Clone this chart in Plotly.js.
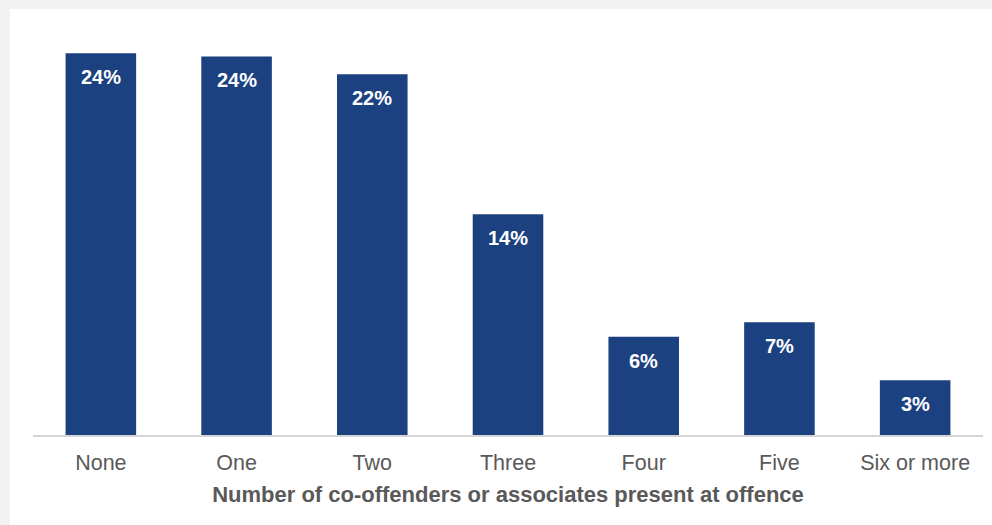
<!DOCTYPE html>
<html>
<head>
<meta charset="utf-8">
<script src="https://cdn.plot.ly/plotly-3.0.1.min.js"></script>
<style>
html,body{margin:0;padding:0;background:#f2f2f2;}
#chart{width:992px;height:525px;}
</style>
</head>
<body>
<div id="chart"></div>
<script>
const categories = ["None", "One", "Two", "Three", "Four", "Five", "Six or more"];
const shares = [23.7, 23.5, 22.4, 13.7, 6.1, 7.0, 3.4];
const barLabels = ["24%", "24%", "22%", "14%", "6%", "7%", "3%"];
const xAxisTitle = "Number of co-offenders or associates present at offence";

const W = 992, H = 525;
const mL = 33, mR = 9, mT = 30, mB = 90;
const plotW = W - mL - mR, plotH = H - mT - mB;

const trace = {
  type: "bar",
  x: categories,
  y: shares,
  marker: {color: "#1b4181", line: {width: 0}},
  hoverinfo: "skip"
};

const annotations = categories.map((c, i) => ({
  x: c, y: shares[i], xref: "x", yref: "y",
  text: barLabels[i], showarrow: false,
  yanchor: "top", yshift: -11,
  font: {family: "Liberation Sans, Arial, sans-serif", size: 20, color: "#ffffff", weight: "bold"}
}));

const layout = {
  width: W, height: H,
  margin: {l: mL, r: mR, t: mT, b: mB},
  paper_bgcolor: "#f2f2f2",
  plot_bgcolor: "#ffffff",
  showlegend: false,
  bargap: 0.48,
  font: {family: "Liberation Sans, Arial, sans-serif", color: "#595959"},
  xaxis: {
    type: "category",
    range: [-0.5, 6.5],
    showline: true, linecolor: "#d4d4d4", linewidth: 2,
    ticks: "", showgrid: false, zeroline: false,
    tickfont: {size: 21.5, color: "#595959"},
    ticklabelstandoff: 7,
    title: {text: xAxisTitle, font: {size: 22, color: "#595959", weight: "bold"}, standoff: 13}
  },
  yaxis: {
    range: [0, 25.14],
    visible: false, showgrid: false, zeroline: false, fixedrange: true
  },
  shapes: [{
    type: "rect", xref: "paper", yref: "paper", layer: "below",
    x0: (10 - mL) / plotW, x1: (W + 5 - mL) / plotW,
    y0: (mT + plotH - H - 5) / plotH, y1: (mT + plotH - 9) / plotH,
    fillcolor: "#ffffff", line: {width: 0}
  }],
  annotations: annotations
};

Plotly.newPlot("chart", [trace], layout, {staticPlot: true, displayModeBar: false});
</script>
</body>
</html>
